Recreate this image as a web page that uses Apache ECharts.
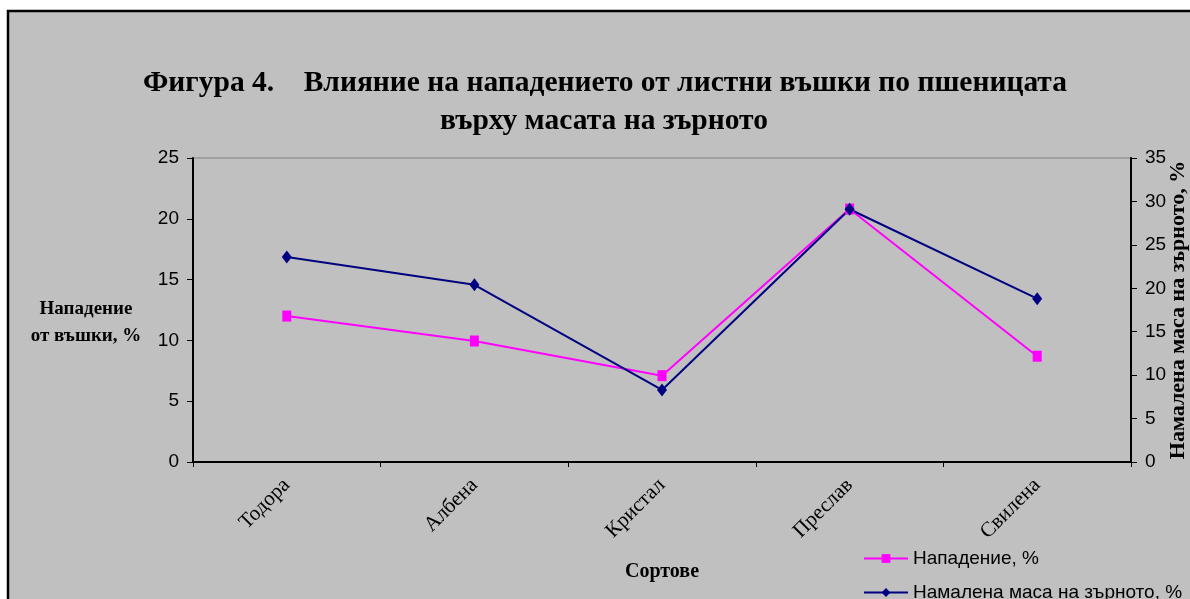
<!DOCTYPE html>
<html>
<head>
<meta charset="utf-8">
<script src="https://cdn.jsdelivr.net/npm/echarts@6/dist/echarts.min.js"></script>
<style>
html,body{margin:0;padding:0;background:#fff;}
#c{width:1190px;height:599px;}
</style>
</head>
<body>
<div id="c"></div>
<script>
var categories = ['Тодора', 'Албена', 'Кристал', 'Преслав', 'Свилена'];
var attackValues = [12.0, 9.95, 7.1, 20.8, 8.7];
var massValues = [23.6, 20.4, 8.3, 29.1, 18.8];
var leftTicks = {min: 0, max: 25, interval: 5};
var rightTicks = {min: 0, max: 35, interval: 5};
var titleLine1 = 'Фигура 4.    Влияние на нападението от листни въшки по пшеницата';
var titleLine2 = 'върху масата на зърното';
var seriesNames = ['Нападение, %', 'Намалена маса на зърното, %'];

var chart = echarts.init(document.getElementById('c'));
var serif = '"Liberation Serif", "Times New Roman", serif';
var sans = '"Liberation Sans", Arial, sans-serif';
var legendText = {fontFamily: sans, fontSize: 19, color: '#000'};
chart.setOption({
  backgroundColor: '#ffffff',
  animation: false,
  graphic: [{
    type: 'rect', z: -10,
    shape: {x: 8, y: 11, width: 1200, height: 600},
    style: {fill: '#c0c0c0', stroke: '#000', lineWidth: 2.5}
  }],
  title: [{
    text: titleLine1, left: 600, top: 63, textAlign: 'center',
    textStyle: {fontFamily: serif, fontWeight: 'bold', fontSize: 29.5, color: '#000'}
  }, {
    text: titleLine2, left: 599, top: 101, textAlign: 'center',
    textStyle: {fontFamily: serif, fontWeight: 'bold', fontSize: 29.5, color: '#000'}
  }, {
    text: 'Нападение\nот въшки, %', left: 81, top: 291, textAlign: 'center',
    textStyle: {fontFamily: serif, fontWeight: 'bold', fontSize: 19, lineHeight: 27, color: '#000'}
  }],
  legend: [{
    orient: 'vertical', left: 863, top: 549, padding: 0, itemWidth: 44, itemHeight: 11, itemGap: 5,
    textStyle: legendText, data: [{name: seriesNames[0]}]
  }, {
    orient: 'vertical', left: 863, top: 583, padding: 0, itemWidth: 44, itemHeight: 11, itemGap: 5,
    textStyle: legendText, data: [{name: seriesNames[1]}]
  }],
  grid: {left: 193, right: 59, top: 158, bottom: 137, outerBoundsMode: 'none', containLabel: false,
    show: true, borderColor: '#808080', borderWidth: 1, backgroundColor: 'transparent'},
  xAxis: {
    type: 'category', data: categories, boundaryGap: true,
    name: 'Сортове', nameLocation: 'middle', nameGap: 100, nameMoveOverlap: false,
    nameTextStyle: {fontFamily: serif, fontWeight: 'bold', fontSize: 20, color: '#000'},
    axisLine: {lineStyle: {color: '#000', width: 2}},
    axisTick: {show: true, length: 5, lineStyle: {color: '#000', width: 1}},
    axisLabel: {rotate: 45, margin: 20, fontFamily: serif, fontSize: 21, color: '#000'}
  },
  yAxis: [{
    type: 'value', min: leftTicks.min, max: leftTicks.max, interval: leftTicks.interval,
    axisLine: {show: true, lineStyle: {color: '#000', width: 2}},
    axisTick: {show: true, length: 6, lineStyle: {color: '#000', width: 1}},
    axisLabel: {margin: 14, fontFamily: sans, fontSize: 19, color: '#000'},
    splitLine: {show: false}
  }, {
    type: 'value', position: 'right', min: rightTicks.min, max: rightTicks.max, interval: rightTicks.interval,
    name: seriesNames[1], nameLocation: 'middle', nameRotate: 90, nameGap: 36, nameMoveOverlap: false,
    nameTextStyle: {fontFamily: serif, fontWeight: 'bold', fontSize: 22, color: '#000'},
    axisLine: {show: true, lineStyle: {color: '#000', width: 2}},
    axisTick: {show: true, length: 6, lineStyle: {color: '#000', width: 1}},
    axisLabel: {margin: 14, fontFamily: sans, fontSize: 19, color: '#000'},
    splitLine: {show: false}
  }],
  series: [{
    name: seriesNames[0], type: 'line', yAxisIndex: 0, data: attackValues,
    symbol: 'rect', symbolSize: [9, 11],
    lineStyle: {color: '#ff00ff', width: 2}, itemStyle: {color: '#ff00ff'}
  }, {
    name: seriesNames[1], type: 'line', yAxisIndex: 1, data: massValues,
    symbol: 'diamond', symbolSize: [10, 13],
    lineStyle: {color: '#000080', width: 2}, itemStyle: {color: '#000080'}
  }]
});
</script>
</body>
</html>
